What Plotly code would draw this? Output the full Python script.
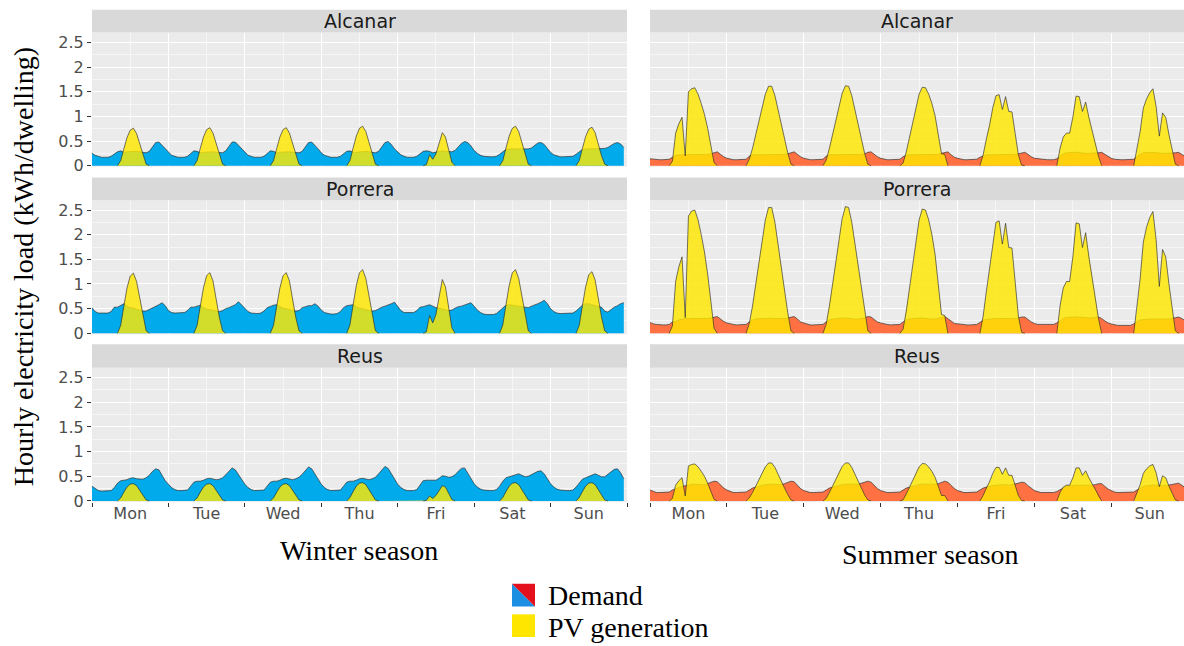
import plotly.graph_objects as go

W, H = 1184, 646
DAYS = ["Mon", "Tue", "Wed", "Thu", "Fri", "Sat", "Sun"]
SITES = ["Alcanar", "Porrera", "Reus"]
SEASON_TITLES = ["Winter season", "Summer season"]
Y_TITLE = "Hourly electricity load (kWh/dwelling)"
Y_TICKS = [0, 0.5, 1, 1.5, 2, 2.5]
Y_TICKTEXT = ["0", "0.5", "1", "1.5", "2", "2.5"]

# ---------------- hourly demand (kWh/dwelling), one list of 24 values per day ----------------
winter_alcanar_demand = [
    [0.25,0.21,0.19,0.17,0.17,0.17, 0.19,0.24,0.28,0.30,0.27,0.28, 0.29,0.29,0.29,0.28,0.27,0.26, 0.29,0.39,0.47,0.48,0.41,0.33],
    [0.26,0.21,0.19,0.17,0.17,0.17, 0.19,0.25,0.30,0.29,0.26,0.27, 0.28,0.28,0.28,0.27,0.26,0.26, 0.30,0.40,0.48,0.48,0.41,0.33],
    [0.26,0.21,0.19,0.17,0.17,0.17, 0.19,0.25,0.30,0.29,0.26,0.27, 0.28,0.28,0.28,0.27,0.27,0.26, 0.29,0.39,0.47,0.48,0.42,0.34],
    [0.26,0.21,0.19,0.17,0.17,0.17, 0.19,0.24,0.29,0.30,0.27,0.27, 0.28,0.29,0.29,0.28,0.27,0.26, 0.29,0.38,0.47,0.49,0.43,0.34],
    [0.27,0.22,0.19,0.17,0.17,0.17, 0.19,0.24,0.29,0.30,0.29,0.26, 0.28,0.29,0.30,0.29,0.28,0.28, 0.31,0.38,0.45,0.49,0.47,0.40],
    [0.31,0.25,0.21,0.19,0.18,0.18, 0.18,0.19,0.23,0.29,0.33,0.34, 0.34,0.34,0.34,0.34,0.34,0.34, 0.36,0.41,0.46,0.47,0.43,0.35],
    [0.27,0.22,0.20,0.18,0.18,0.18, 0.18,0.19,0.23,0.29,0.33,0.34, 0.34,0.34,0.34,0.34,0.34,0.35, 0.37,0.41,0.45,0.47,0.44,0.37],
]
winter_porrera_demand = [
    [0.52,0.44,0.41,0.41,0.41,0.41, 0.44,0.53,0.53,0.57,0.60,0.55, 0.52,0.51,0.49,0.48,0.45,0.45, 0.48,0.51,0.54,0.58,0.62,0.56],
    [0.46,0.42,0.41,0.41,0.41,0.42, 0.46,0.53,0.53,0.55,0.57,0.52, 0.49,0.48,0.47,0.46,0.44,0.46, 0.50,0.52,0.55,0.58,0.64,0.58],
    [0.52,0.44,0.41,0.40,0.40,0.41, 0.45,0.52,0.55,0.57,0.58,0.54, 0.51,0.50,0.48,0.47,0.45,0.46, 0.52,0.54,0.56,0.56,0.60,0.55],
    [0.47,0.42,0.40,0.39,0.39,0.40, 0.44,0.52,0.56,0.57,0.58,0.54, 0.51,0.50,0.48,0.47,0.45,0.46, 0.50,0.53,0.55,0.57,0.60,0.63],
    [0.55,0.46,0.42,0.42,0.42,0.42, 0.46,0.53,0.54,0.56,0.58,0.55, 0.52,0.51,0.50,0.48,0.46,0.47, 0.51,0.54,0.55,0.57,0.60,0.62],
    [0.55,0.47,0.42,0.39,0.38,0.38, 0.38,0.40,0.46,0.53,0.57,0.58, 0.57,0.56,0.55,0.54,0.53,0.52, 0.55,0.57,0.60,0.63,0.67,0.60],
    [0.50,0.44,0.41,0.40,0.40,0.40, 0.40,0.41,0.45,0.52,0.57,0.60, 0.60,0.58,0.56,0.55,0.53,0.45, 0.43,0.48,0.53,0.56,0.60,0.62],
]
winter_reus_demand = [
    [0.30,0.25,0.21,0.20,0.20,0.20, 0.21,0.27,0.36,0.41,0.42,0.43, 0.46,0.47,0.45,0.44,0.44,0.47, 0.52,0.60,0.65,0.63,0.52,0.41],
    [0.34,0.27,0.23,0.21,0.21,0.21, 0.22,0.30,0.38,0.40,0.40,0.42, 0.45,0.46,0.44,0.43,0.44,0.47, 0.53,0.61,0.67,0.63,0.53,0.42],
    [0.34,0.27,0.23,0.21,0.21,0.21, 0.22,0.30,0.38,0.40,0.40,0.42, 0.45,0.46,0.44,0.43,0.45,0.48, 0.54,0.62,0.69,0.65,0.54,0.43],
    [0.34,0.27,0.23,0.21,0.21,0.21, 0.22,0.30,0.38,0.40,0.40,0.42, 0.45,0.46,0.44,0.43,0.45,0.48, 0.55,0.63,0.70,0.66,0.55,0.43],
    [0.34,0.27,0.23,0.21,0.21,0.21, 0.23,0.32,0.41,0.42,0.42,0.42, 0.42,0.46,0.51,0.50,0.48,0.49, 0.53,0.60,0.66,0.67,0.57,0.45],
    [0.35,0.28,0.24,0.22,0.21,0.21, 0.21,0.23,0.30,0.40,0.47,0.49, 0.50,0.53,0.55,0.52,0.49,0.50, 0.53,0.57,0.60,0.61,0.55,0.45],
    [0.35,0.28,0.24,0.22,0.21,0.21, 0.21,0.22,0.28,0.37,0.44,0.47, 0.50,0.53,0.55,0.52,0.49,0.49, 0.54,0.60,0.64,0.65,0.57,0.45],
]
summer_alcanar_demand = [
    [0.14,0.13,0.13,0.12,0.12,0.12, 0.13,0.17,0.21,0.22,0.22,0.23, 0.23,0.23,0.23,0.23,0.23,0.23, 0.23,0.24,0.26,0.28,0.23,0.18],
    [0.15,0.13,0.12,0.12,0.12,0.12, 0.13,0.19,0.22,0.22,0.22,0.22, 0.23,0.23,0.23,0.23,0.22,0.22, 0.23,0.24,0.26,0.28,0.23,0.18],
    [0.15,0.13,0.12,0.12,0.12,0.12, 0.13,0.19,0.22,0.22,0.22,0.23, 0.23,0.23,0.23,0.22,0.22,0.22, 0.23,0.24,0.27,0.28,0.23,0.18],
    [0.15,0.13,0.12,0.12,0.12,0.12, 0.13,0.18,0.21,0.22,0.22,0.22, 0.22,0.23,0.23,0.22,0.22,0.22, 0.23,0.25,0.27,0.28,0.22,0.17],
    [0.15,0.13,0.12,0.12,0.12,0.12, 0.13,0.17,0.20,0.22,0.22,0.22, 0.23,0.23,0.23,0.23,0.22,0.22, 0.23,0.24,0.26,0.27,0.23,0.18],
    [0.15,0.14,0.13,0.12,0.12,0.12, 0.12,0.14,0.19,0.24,0.26,0.27, 0.27,0.27,0.26,0.26,0.25,0.25, 0.25,0.25,0.26,0.27,0.23,0.18],
    [0.15,0.13,0.12,0.12,0.12,0.12, 0.12,0.13,0.18,0.23,0.26,0.27, 0.27,0.27,0.26,0.26,0.25,0.25, 0.25,0.25,0.26,0.27,0.23,0.19],
]
summer_porrera_demand = [
    [0.22,0.19,0.18,0.17,0.17,0.17, 0.18,0.23,0.24,0.27,0.29,0.30, 0.30,0.30,0.30,0.29,0.29,0.29, 0.30,0.31,0.33,0.34,0.29,0.24],
    [0.21,0.19,0.18,0.17,0.17,0.17, 0.18,0.23,0.27,0.29,0.30,0.30, 0.30,0.31,0.30,0.30,0.29,0.29, 0.30,0.31,0.33,0.34,0.29,0.23],
    [0.21,0.19,0.17,0.17,0.17,0.17, 0.18,0.23,0.27,0.29,0.30,0.30, 0.31,0.31,0.30,0.30,0.29,0.29, 0.30,0.31,0.34,0.33,0.28,0.23],
    [0.21,0.19,0.18,0.17,0.17,0.17, 0.18,0.23,0.27,0.29,0.30,0.30, 0.31,0.31,0.30,0.30,0.29,0.29, 0.30,0.32,0.34,0.30,0.25,0.20],
    [0.19,0.18,0.18,0.17,0.17,0.17, 0.18,0.22,0.27,0.28,0.29,0.29, 0.30,0.30,0.30,0.29,0.29,0.29, 0.30,0.31,0.33,0.33,0.28,0.23],
    [0.20,0.18,0.18,0.18,0.18,0.18, 0.18,0.21,0.26,0.30,0.32,0.33, 0.33,0.33,0.33,0.32,0.32,0.31, 0.31,0.32,0.33,0.30,0.25,0.21],
    [0.19,0.17,0.16,0.16,0.16,0.16, 0.16,0.19,0.24,0.27,0.28,0.29, 0.29,0.29,0.29,0.28,0.28,0.28, 0.29,0.30,0.32,0.33,0.30,0.26],
]
summer_reus_demand = [
    [0.22,0.19,0.17,0.17,0.17,0.17, 0.18,0.22,0.25,0.27,0.29,0.31, 0.33,0.34,0.34,0.33,0.33,0.33, 0.35,0.37,0.40,0.39,0.32,0.26],
    [0.22,0.19,0.17,0.17,0.17,0.17, 0.18,0.22,0.26,0.28,0.30,0.31, 0.33,0.34,0.34,0.34,0.33,0.33, 0.35,0.37,0.40,0.39,0.32,0.25],
    [0.21,0.19,0.17,0.17,0.17,0.17, 0.18,0.22,0.26,0.28,0.30,0.31, 0.33,0.34,0.34,0.34,0.33,0.34, 0.36,0.38,0.40,0.38,0.31,0.25],
    [0.21,0.19,0.17,0.17,0.17,0.17, 0.18,0.22,0.26,0.28,0.30,0.31, 0.33,0.34,0.34,0.34,0.33,0.34, 0.35,0.37,0.40,0.38,0.31,0.25],
    [0.21,0.19,0.17,0.17,0.17,0.17, 0.18,0.22,0.26,0.28,0.30,0.31, 0.32,0.33,0.33,0.33,0.32,0.33, 0.34,0.36,0.38,0.37,0.31,0.25],
    [0.21,0.19,0.17,0.17,0.17,0.17, 0.17,0.19,0.23,0.27,0.30,0.31, 0.32,0.32,0.32,0.32,0.31,0.31, 0.32,0.33,0.35,0.35,0.30,0.24],
    [0.21,0.18,0.17,0.17,0.17,0.17, 0.17,0.18,0.22,0.26,0.29,0.31, 0.32,0.32,0.32,0.31,0.31,0.31, 0.32,0.33,0.35,0.36,0.32,0.27],
]

# ---------------- hourly PV generation (kWh/dwelling), one list of 24 values per day ----------------
winter_alcanar_pv = [
    [0,0,0,0,0,0, 0,0,0,0.10,0.34,0.57, 0.72,0.76,0.65,0.43,0.20,0.03, 0,0,0,0,0,0],
    [0,0,0,0,0,0, 0,0,0,0.10,0.35,0.58, 0.73,0.77,0.66,0.44,0.20,0.03, 0,0,0,0,0,0],
    [0,0,0,0,0,0, 0,0,0,0.10,0.35,0.58, 0.73,0.77,0.66,0.44,0.20,0.03, 0,0,0,0,0,0],
    [0,0,0,0,0,0, 0,0,0,0.10,0.36,0.60, 0.76,0.80,0.69,0.46,0.21,0.03, 0,0,0,0,0,0],
    [0,0,0,0,0,0, 0,0,0,0.02,0.22,0.13, 0.24,0.45,0.67,0.58,0.30,0.07, 0,0,0,0,0,0],
    [0,0,0,0,0,0, 0,0,0,0.10,0.36,0.60, 0.76,0.80,0.69,0.46,0.21,0.03, 0,0,0,0,0,0],
    [0,0,0,0,0,0, 0,0,0,0.10,0.35,0.59, 0.74,0.78,0.67,0.44,0.20,0.03, 0,0,0,0,0,0],
]
winter_porrera_pv = [
    [0,0,0,0,0,0, 0,0,0,0.16,0.55,0.92, 1.16,1.22,1.05,0.70,0.32,0.05, 0,0,0,0,0,0],
    [0,0,0,0,0,0, 0,0,0,0.16,0.55,0.92, 1.17,1.23,1.06,0.70,0.32,0.05, 0,0,0,0,0,0],
    [0,0,0,0,0,0, 0,0,0,0.16,0.55,0.92, 1.17,1.23,1.06,0.70,0.32,0.05, 0,0,0,0,0,0],
    [0,0,0,0,0,0, 0,0,0,0.17,0.58,0.97, 1.23,1.29,1.11,0.74,0.34,0.05, 0,0,0,0,0,0],
    [0,0,0,0,0,0, 0,0,0,0.03,0.36,0.21, 0.38,0.72,1.09,0.94,0.48,0.11, 0,0,0,0,0,0],
    [0,0,0,0,0,0, 0,0,0,0.17,0.58,0.97, 1.23,1.29,1.11,0.74,0.34,0.05, 0,0,0,0,0,0],
    [0,0,0,0,0,0, 0,0,0,0.16,0.56,0.94, 1.19,1.25,1.08,0.71,0.33,0.05, 0,0,0,0,0,0],
]
winter_reus_pv = [
    [0,0,0,0,0,0, 0,0,0,0.06,0.18,0.28, 0.34,0.35,0.31,0.22,0.11,0.02, 0,0,0,0,0,0],
    [0,0,0,0,0,0, 0,0,0,0.06,0.18,0.28, 0.34,0.35,0.31,0.22,0.11,0.02, 0,0,0,0,0,0],
    [0,0,0,0,0,0, 0,0,0,0.06,0.18,0.28, 0.34,0.35,0.31,0.22,0.11,0.02, 0,0,0,0,0,0],
    [0,0,0,0,0,0, 0,0,0,0.07,0.19,0.30, 0.36,0.37,0.33,0.23,0.11,0.02, 0,0,0,0,0,0],
    [0,0,0,0,0,0, 0,0,0,0.01,0.10,0.05, 0.11,0.21,0.31,0.28,0.14,0.03, 0,0,0,0,0,0],
    [0,0,0,0,0,0, 0,0,0,0.07,0.19,0.30, 0.36,0.37,0.33,0.23,0.11,0.02, 0,0,0,0,0,0],
    [0,0,0,0,0,0, 0,0,0,0.07,0.19,0.30, 0.36,0.37,0.33,0.23,0.11,0.02, 0,0,0,0,0,0],
]
summer_alcanar_pv = [
    [0,0,0,0,0,0, 0,0.09,0.66,0.85,0.98,0.20, 1.50,1.56,1.58,1.45,1.26,1.04, 0.76,0.39,0.06,0,0,0],
    [0,0,0,0,0,0, 0,0.13,0.35,0.63,0.89,1.20, 1.45,1.61,1.61,1.42,1.12,0.83, 0.55,0.26,0.03,0,0,0],
    [0,0,0,0,0,0, 0,0.11,0.35,0.63,0.91,1.21, 1.47,1.62,1.61,1.42,1.13,0.85, 0.55,0.25,0.03,0,0,0],
    [0,0,0,0,0,0, 0,0.05,0.28,0.57,0.85,1.17, 1.45,1.59,1.58,1.45,1.26,1.01, 0.60,0.24,0.23,0,0,0],
    [0,0,0,0,0,0, 0,0,0.22,0.54,0.82,1.17, 1.42,1.44,1.14,1.40,1.10,1.09, 0.63,0.22,0.01,0,0,0],
    [0,0,0,0,0,0, 0,0,0.35,0.58,0.66,0.66, 0.98,1.41,1.40,1.10,1.29,0.98, 0.72,0.47,0.19,0,0,0],
    [0,0,0,0,0,0, 0,0,0.32,0.69,1.17,1.35, 1.48,1.56,1.20,0.60,1.07,0.98, 0.63,0.32,0.03,0,0,0],
]
summer_porrera_pv = [
    [0,0,0,0,0,0, 0,0.15,1.05,1.35,1.55,0.32, 2.38,2.48,2.50,2.30,2.00,1.65, 1.20,0.62,0.10,0,0,0],
    [0,0,0,0,0,0, 0,0.20,0.55,1.00,1.42,1.90, 2.30,2.55,2.55,2.25,1.78,1.32, 0.88,0.42,0.05,0,0,0],
    [0,0,0,0,0,0, 0,0.18,0.55,1.00,1.45,1.92, 2.33,2.57,2.55,2.25,1.80,1.35, 0.88,0.40,0.05,0,0,0],
    [0,0,0,0,0,0, 0,0.08,0.45,0.90,1.35,1.85, 2.30,2.52,2.50,2.30,2.00,1.60, 0.95,0.38,0.36,0,0,0],
    [0,0,0,0,0,0, 0,0,0.35,0.85,1.30,1.85, 2.25,2.28,1.81,2.23,1.74,1.73, 1.00,0.35,0.02,0,0,0],
    [0,0,0,0,0,0, 0,0,0.55,0.92,1.05,1.05, 1.55,2.24,2.22,1.74,2.04,1.55, 1.15,0.75,0.30,0,0,0],
    [0,0,0,0,0,0, 0,0,0.50,1.10,1.85,2.15, 2.35,2.47,1.90,0.95,1.70,1.55, 1.00,0.50,0.05,0,0,0],
]
summer_reus_pv = [
    [0,0,0,0,0,0, 0,0.05,0.32,0.41,0.47,0.10, 0.71,0.74,0.75,0.69,0.60,0.50, 0.36,0.19,0.03,0,0,0],
    [0,0,0,0,0,0, 0,0.06,0.17,0.30,0.43,0.57, 0.69,0.77,0.77,0.68,0.53,0.40, 0.26,0.13,0.02,0,0,0],
    [0,0,0,0,0,0, 0,0.05,0.17,0.30,0.44,0.58, 0.70,0.77,0.77,0.68,0.54,0.41, 0.26,0.12,0.02,0,0,0],
    [0,0,0,0,0,0, 0,0.02,0.14,0.27,0.41,0.56, 0.69,0.76,0.75,0.69,0.60,0.48, 0.29,0.11,0.11,0,0,0],
    [0,0,0,0,0,0, 0,0,0.11,0.26,0.39,0.56, 0.68,0.68,0.54,0.67,0.52,0.52, 0.30,0.11,0.01,0,0,0],
    [0,0,0,0,0,0, 0,0,0.17,0.28,0.32,0.32, 0.47,0.67,0.67,0.52,0.61,0.47, 0.35,0.23,0.09,0,0,0],
    [0,0,0,0,0,0, 0,0,0.15,0.33,0.56,0.65, 0.71,0.74,0.57,0.29,0.51,0.47, 0.30,0.15,0.02,0,0,0],
]

# ---------------- styling ----------------
DEMAND_COLORS = ["#00AAEB", "#FF7043"]          # winter, summer
PV_FILL = "rgba(255,230,0,0.82)"
OUTLINE = "#333333"
PANEL_BG = "#EBEBEB"
STRIP_BG = "#D9D9D9"
SANS = "DejaVu Sans"
SERIF = "Liberation Serif, Times New Roman, serif"

COL_PX = [(92, 627), (650, 1184)]
ROW_PX = [(33, 169), (203, 339), (373, 509)]
STRIP_PX = [(10, 33), (180, 203), (349, 373)]
X_RANGES = [[0, 168], [0, 166.7]]
Y_RANGE = [-0.02, 2.70]

panels = {
    (0, 0): (winter_alcanar_demand, winter_alcanar_pv),
    (1, 0): (winter_porrera_demand, winter_porrera_pv),
    (2, 0): (winter_reus_demand, winter_reus_pv),
    (0, 1): (summer_alcanar_demand, summer_alcanar_pv),
    (1, 1): (summer_porrera_demand, summer_porrera_pv),
    (2, 1): (summer_reus_demand, summer_reus_pv),
}


def flat(days):
    return [v for d in days for v in d]


def outline_only(vals):
    out = []
    n = len(vals)
    for i, v in enumerate(vals):
        p = vals[i - 1] if i > 0 else 0
        q = vals[i + 1] if i < n - 1 else 0
        out.append(None if (v == 0 and p == 0 and q == 0) else v)
    return out


fx = lambda px: px / W
fy = lambda py: 1 - py / H

fig = go.Figure()
layout_axes = {}
shapes = []
annotations = []

for (r, c), (dem_days, pv_days) in panels.items():
    idx = r * 2 + c + 1
    xs = "" if idx == 1 else str(idx)
    dem = flat(dem_days)
    pv = flat(pv_days)
    hours = list(range(len(dem)))
    fig.add_trace(go.Scatter(x=hours, y=dem, mode="lines", fill="tozeroy",
                             fillcolor=DEMAND_COLORS[c], line=dict(color=OUTLINE, width=0.7),
                             xaxis="x" + xs, yaxis="y" + xs, hoverinfo="skip", showlegend=False))
    fig.add_trace(go.Scatter(x=hours, y=pv, mode="lines", fill="tozeroy",
                             fillcolor=PV_FILL, line=dict(width=0),
                             xaxis="x" + xs, yaxis="y" + xs, hoverinfo="skip", showlegend=False))
    fig.add_trace(go.Scatter(x=hours, y=outline_only(pv), mode="lines",
                             line=dict(color="rgba(40,40,40,0.9)", width=0.7), connectgaps=False,
                             xaxis="x" + xs, yaxis="y" + xs, hoverinfo="skip", showlegend=False))

    bottom = (r == 2)
    left = (c == 0)
    x0, x1 = COL_PX[c]
    ytop, ybot = ROW_PX[r]
    layout_axes["xaxis" + xs] = dict(
        domain=[fx(x0), fx(x1)], range=X_RANGES[c], anchor="y" + xs,
        showline=False, zeroline=False,
        tickmode="array", tickvals=[12 + 24 * i for i in range(7)],
        ticktext=DAYS, showticklabels=bottom, ticks="",
        showgrid=True, gridcolor="#F6F6F6", gridwidth=0.6,
        tickfont=dict(family=SANS, size=16, color="#4D4D4D"),
        minor=dict(tickmode="array", tickvals=[24 * i for i in range(8)],
                   ticks="outside" if bottom else "", ticklen=4, tickwidth=1,
                   tickcolor="#333333", showgrid=True, gridcolor="#FFFFFF", gridwidth=1.2),
    )
    layout_axes["yaxis" + xs] = dict(
        domain=[fy(ybot), fy(ytop)], range=Y_RANGE, anchor="x" + xs,
        showline=False, zeroline=False,
        tickmode="array", tickvals=Y_TICKS, ticktext=Y_TICKTEXT,
        showticklabels=left, ticks="outside" if left else "", ticklen=4, tickwidth=1,
        tickcolor="#333333", showgrid=True, gridcolor="#FFFFFF", gridwidth=1.2,
        tickfont=dict(family=SANS, size=16, color="#4D4D4D"),
        minor=dict(tickmode="array", tickvals=[0.25, 0.75, 1.25, 1.75, 2.25],
                   showgrid=True, gridcolor="#F6F6F6", gridwidth=0.6, ticks=""),
    )
    # facet strip
    st, sb = STRIP_PX[r]
    shapes.append(dict(type="rect", xref="paper", yref="paper",
                       x0=fx(x0), x1=fx(x1), y0=fy(sb), y1=fy(st),
                       fillcolor=STRIP_BG, line=dict(width=0)))
    annotations.append(dict(text=SITES[r], xref="paper", yref="paper",
                            x=fx((x0 + x1) / 2), y=fy((st + sb) / 2),
                            xanchor="center", yanchor="middle", showarrow=False,
                            font=dict(family=SANS, size=19, color="#1A1A1A")))

# season titles
annotations.append(dict(text=SEASON_TITLES[0], xref="paper", yref="paper", x=fx(359), y=fy(558),
                        xanchor="center", yanchor="middle", showarrow=False,
                        font=dict(family=SERIF, size=28, color="black")))
annotations.append(dict(text=SEASON_TITLES[1], xref="paper", yref="paper", x=fx(930), y=fy(562),
                        xanchor="center", yanchor="middle", showarrow=False,
                        font=dict(family=SERIF, size=28, color="black")))
# y title
annotations.append(dict(text=Y_TITLE, xref="paper", yref="paper", x=fx(23), y=fy(271),
                        xanchor="center", yanchor="middle", textangle=-90, showarrow=False,
                        font=dict(family=SERIF, size=28, color="black")))

# manual legend
lx0, lx1 = 512, 535
d_y0, d_y1 = 592, 615
p_y0, p_y1 = 623, 646
shapes.append(dict(type="path", xref="paper", yref="paper",
                   path=f"M {fx(lx0)},{fy(d_y0)} L {fx(lx0)},{fy(d_y1)} L {fx(lx1)},{fy(d_y1)} Z",
                   fillcolor="#1C8FE3", line=dict(width=0)))
shapes.append(dict(type="path", xref="paper", yref="paper",
                   path=f"M {fx(lx0)},{fy(d_y0)} L {fx(lx1)},{fy(d_y0)} L {fx(lx1)},{fy(d_y1)} Z",
                   fillcolor="#E4101E", line=dict(width=0)))
shapes.append(dict(type="rect", xref="paper", yref="paper",
                   x0=fx(lx0), x1=fx(lx1), y0=fy(p_y1), y1=fy(p_y0),
                   fillcolor="#FFE600", line=dict(width=0)))
annotations.append(dict(text="Demand", xref="paper", yref="paper", x=fx(546), y=fy(604),
                        xanchor="left", yanchor="middle", showarrow=False,
                        font=dict(family=SERIF, size=28, color="black")))
annotations.append(dict(text="PV generation", xref="paper", yref="paper", x=fx(546), y=fy(636),
                        xanchor="left", yanchor="middle", showarrow=False,
                        font=dict(family=SERIF, size=28, color="black")))

fig.update_layout(
    width=W, height=H, autosize=False,
    margin=dict(l=0, r=0, t=0, b=0),
    paper_bgcolor="white", plot_bgcolor=PANEL_BG,
    showlegend=False, shapes=shapes, annotations=annotations,
    **layout_axes,
)

fig.write_html("out.html")
